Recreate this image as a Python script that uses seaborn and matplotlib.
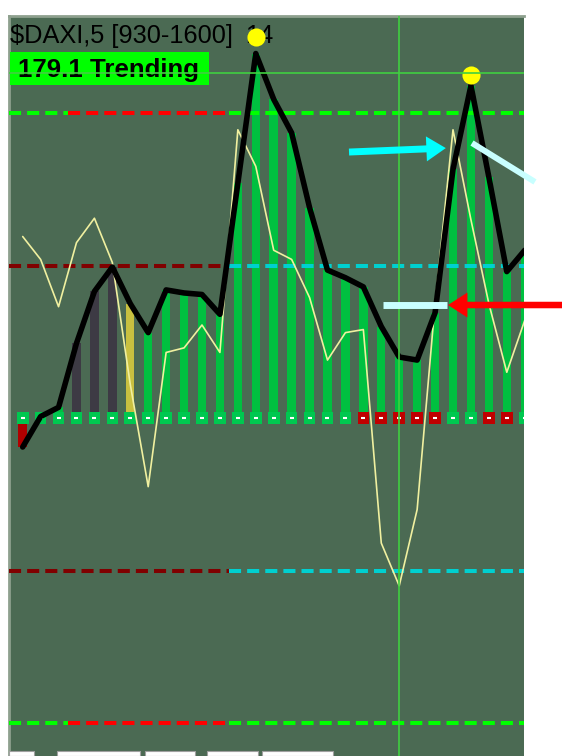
import numpy as np
import pandas as pd
import seaborn as sns
import matplotlib.pyplot as plt
from matplotlib import font_manager
from matplotlib.patches import Rectangle

# oscillator per 5-min bar (histogram + thick black line)
osc = [-19, 1, 7, 49, 83, 99, 75, 56, 84, 82, 81, 68, 154, 239, 209, 187,
       138, 97, 92, 86, 60, 40, 38, 69, 163, 218, 158, 96, 110]
# thin yellow trigger line
trigger = [119, 104, 73, 115, 131, 102, 22, -45, 43, 46, 61, 43, 189, 165,
           110, 104, 79, 38, 56, 58, -82, -110, -60, 75, 189, 130, 75, 30, 64]
bar_colors = (['#b00000', '#00c040', '#00c040'] + ['#3d3a44'] * 3 + ['#c8c040']
              + ['#00c040'] * 22)
zero_state = ['up'] * 19 + ['dn'] * 5 + ['up'] * 2 + ['dn'] * 2 + ['up']
outer_seg = ['#00ff00'] * 3 + ['#ff0000'] * 9 + ['#00ff00'] * 17
inner_seg = ['#800000'] * 12 + ['#00d0d0'] * 17
peak_bars = [13, 25]
peak_values = [250, 225]
outer_level = 200
inner_level = 100
cursor_bar = 21
cursor_value = 226
title = '$DAXI,5 [930-1600]'
title_tail = '14'
status = '179.1 Trending'

n = len(osc)
df = pd.DataFrame({'bar': np.arange(n), 'osc': osc, 'trigger': trigger,
                   'key': [str(i) for i in range(n)], 'zero': 0.0, 'state': zero_state})

sns.set_style('white')
names = {f.name for f in font_manager.fontManager.ttflist}
if 'Liberation Sans Narrow' in names:
    fam, fs, fs_b = 'Liberation Sans Narrow', 21, 21
else:
    fam, fs, fs_b = 'Liberation Sans', 18.3, 18.6
plt.rcParams['font.family'] = [fam, 'DejaVu Sans']

W, H = 562, 756
fig = plt.figure(figsize=(W / 100, H / 100), dpi=100)
fig.patch.set_facecolor('white')
ax = fig.add_axes([9 / W, 0, 515 / W, 740 / H])
ax.set_facecolor('#4b6a53')

# histogram bars
sns.barplot(data=df, x='bar', y='osc', hue='key', palette=dict(zip(df['key'], bar_colors)),
            native_scale=True, width=0.47, saturation=1, dodge=False, legend=False,
            ax=ax, zorder=2, linewidth=0)

xmin, xmax = -0.764, 27.96


def draw_level(y, seg_colors):
    start = 0
    for i in range(1, n + 1):
        if i == n or seg_colors[i] != seg_colors[start]:
            x0 = xmin if start == 0 else start - 0.5
            x1 = i - 0.5 if i < n else n
            ax.plot([x0, x1], [y, y], color=seg_colors[start], lw=2.9,
                    dashes=(3, 1.5), solid_capstyle='butt', dash_capstyle='butt', zorder=3)
            start = i


draw_level(outer_level, outer_seg)
draw_level(-outer_level, outer_seg)
draw_level(inner_level, inner_seg)
draw_level(-inner_level, inner_seg)

# zero line markers
sns.scatterplot(data=df, x='bar', y='zero', hue='state', palette={'up': '#00c850', 'dn': '#c00000'},
                marker='s', s=70, linewidth=0, legend=False, ax=ax, zorder=4)
ax.scatter(df['bar'], df['zero'], marker='_', c='white', s=10, linewidths=1.5, zorder=5)

sns.lineplot(data=df, x='bar', y='trigger', color='#f0f0a0', lw=1.2, errorbar=None, ax=ax, zorder=5)
sns.lineplot(data=df, x='bar', y='osc', color='black', lw=4, errorbar=None, ax=ax, zorder=6)

ax.text((245 - 9) / 515, 0.9635, title_tail, transform=ax.transAxes, fontsize=fs,
        va='baseline', ha='left', color='black', zorder=6)
sns.scatterplot(x=peak_bars, y=peak_values, color='#ffff00', s=170, linewidth=0, ax=ax, zorder=7)

ax.add_patch(Rectangle((0.002, 0.9068), 0.386, 0.0446, transform=ax.transAxes,
                       facecolor='#00ff00', edgecolor='none', zorder=7))
ax.text(0.002, 0.9635, title, transform=ax.transAxes, fontsize=fs, va='baseline',
        ha='left', color='black', parse_math=False, zorder=8)
ax.text(0.0175, 0.9176, status, transform=ax.transAxes, fontsize=fs_b, fontweight='bold',
        va='baseline', ha='left', color='black', zorder=8)

# crosshair cursor
ax.axvline(cursor_bar, color='#40d040', lw=1.2, zorder=9)
ax.axhline(cursor_value, color='#40d040', lw=1.2, zorder=9)

# annotations
ax.annotate('', xy=(23.6, 177), xytext=(18.2, 174.4), annotation_clip=False,
            arrowprops=dict(arrowstyle='simple,head_length=14,head_width=18,tail_width=5',
                            mutation_scale=1, color='#00ffff', lw=0, shrinkA=0, shrinkB=0),
            zorder=10)
ax.annotate('', xy=(23.72, 74.1), xytext=(30.08, 74.1), annotation_clip=False,
            arrowprops=dict(arrowstyle='simple,head_length=14,head_width=18,tail_width=4.7',
                            mutation_scale=1, color='#ff0000', lw=0, shrinkA=0, shrinkB=0),
            zorder=10)
ax.plot([25.06, 28.57], [180.3, 154.8], color='#c8ffff', lw=4.3, solid_capstyle='butt',
        clip_on=False, zorder=10)
ax.plot([20.09, 23.66], [74.1, 74.1], color='#c8ffff', lw=5, solid_capstyle='butt',
        clip_on=False, zorder=10)

ax.set_xlim(xmin, xmax)
ax.set_ylim(-221.6, 263.6)
ax.set_xticks([])
ax.set_yticks([])
ax.set_xlabel('')
ax.set_ylabel('')
for side in ['right', 'bottom']:
    ax.spines[side].set_visible(False)
for side in ['top', 'left']:
    ax.spines[side].set_visible(True)
    ax.spines[side].set_color('#8ea08e')
    ax.spines[side].set_linewidth(2)

# tab strip at the bottom
for x0, x1 in [(9, 34), (57, 140), (145, 195), (207, 258), (262, 333)]:
    fig.patches.append(Rectangle((x0 / W, 0), (x1 - x0) / W, 5 / H, transform=fig.transFigure,
                                 facecolor='white', edgecolor='#a0a0a0', lw=0.8, zorder=20))

fig.savefig('out.png', dpi=100, facecolor='white')
